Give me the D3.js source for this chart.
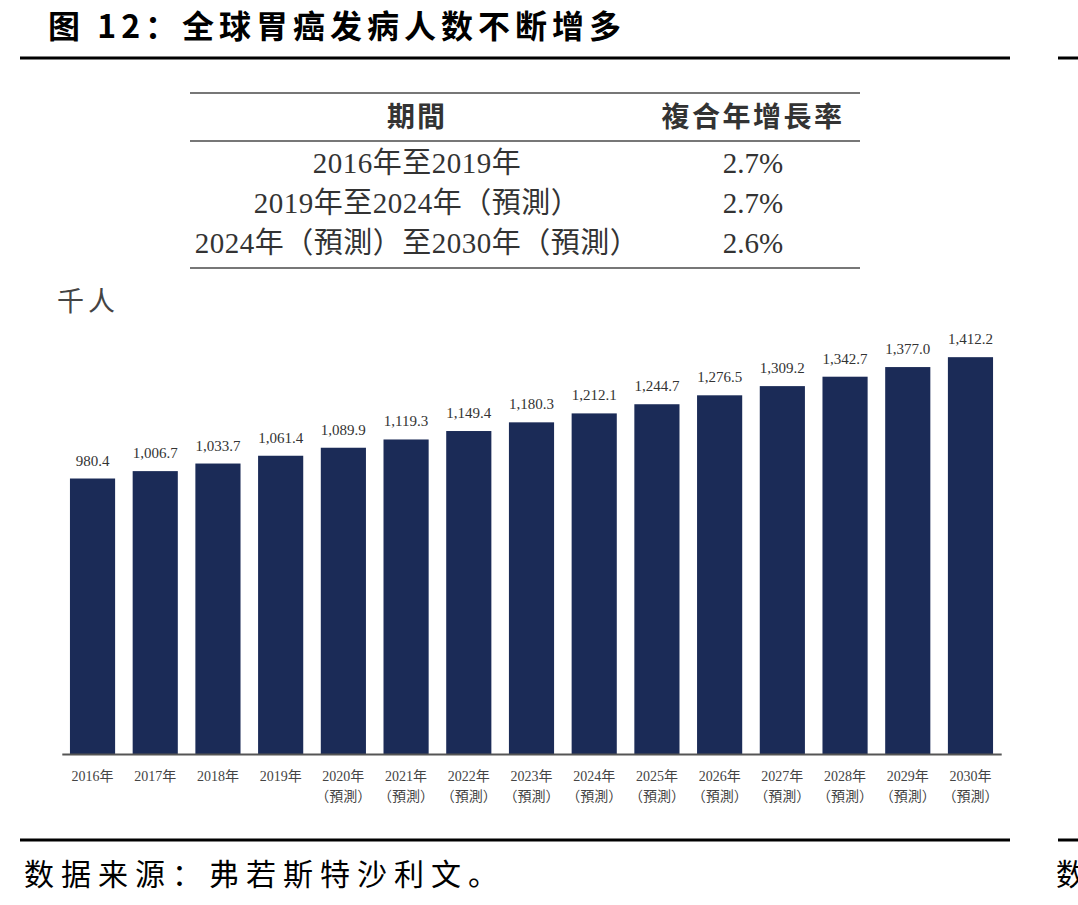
<!DOCTYPE html>
<html>
<head>
<meta charset="utf-8">
<script src="https://cdn.jsdelivr.net/npm/d3@7"></script>
<style>
  body { margin: 0; background: #fff; }
  svg { display: block; }
</style>
</head>
<body>
<div id="chart"></div>
<script>
var years = ["2016年", "2017年", "2018年", "2019年", "2020年", "2021年", "2022年", "2023年",
  "2024年", "2025年", "2026年", "2027年", "2028年", "2029年", "2030年"];
var forecast = [false, false, false, false, true, true, true, true, true, true, true, true, true, true, true];
var cases = [980.4, 1006.7, 1033.7, 1061.4, 1089.9, 1119.3, 1149.4, 1180.3, 1212.1, 1244.7,
  1276.5, 1309.2, 1342.7, 1377.0, 1412.2];

var periods = ["2016年至2019年", "2019年至2024年（預測）", "2024年（預測）至2030年（預測）"];
var cagr = ["2.7%", "2.7%", "2.6%"];

var svgWidth = 1078;
var svgHeight = 905;
var serif = "'Liberation Serif', 'DejaVu Serif', 'Noto Sans CJK TC', serif";
var cjk = "'Noto Sans CJK SC', sans-serif";

var svg = d3.select("#chart")
  .append("svg")
  .attr("width", svgWidth)
  .attr("height", svgHeight);

// Title and frame lines
svg.append("text")
  .attr("x", 48)
  .attr("y", 38)
  .attr("font-family", cjk)
  .attr("font-weight", "bold")
  .attr("font-size", 32)
  .attr("letter-spacing", 5)
  .attr("fill", "#000")
  .text("图 12：全球胃癌发病人数不断增多");

[58, 840].forEach(function(y) {
  svg.append("line").attr("x1", 20).attr("x2", 1010).attr("y1", y).attr("y2", y)
    .attr("stroke", "#000").attr("stroke-width", 3);
  svg.append("line").attr("x1", 1058).attr("x2", 1078).attr("y1", y).attr("y2", y)
    .attr("stroke", "#000").attr("stroke-width", 3);
});

// source note (the second, clipped one belongs to the next column on the page)
svg.append("text")
  .attr("x", 24)
  .attr("y", 885)
  .attr("font-family", cjk)
  .attr("font-size", 30)
  .attr("letter-spacing", 7)
  .attr("fill", "#000")
  .text("数据来源：弗若斯特沙利文。");
svg.append("text")
  .attr("x", 1056)
  .attr("y", 885)
  .attr("font-family", cjk)
  .attr("font-size", 30)
  .attr("fill", "#000")
  .text("数");

// CAGR table
var table = svg.append("g");
var colX = [417, 753];
[93, 141, 268].forEach(function(y) {
  table.append("line").attr("x1", 190).attr("x2", 860).attr("y1", y).attr("y2", y)
    .attr("stroke", "#777").attr("stroke-width", 2);
});
table.append("text").attr("x", colX[0]).attr("y", 127).attr("text-anchor", "middle")
  .attr("font-family", cjk).attr("font-weight", "bold").attr("font-size", 28)
  .attr("letter-spacing", 2).attr("fill", "#333")
  .text("期間");
table.append("text").attr("x", colX[1]).attr("y", 127).attr("text-anchor", "middle")
  .attr("font-family", cjk).attr("font-weight", "bold").attr("font-size", 28)
  .attr("letter-spacing", 2.5).attr("fill", "#333")
  .text("複合年增長率");

var rowY = d3.scalePoint().domain(d3.range(periods.length)).range([173, 253]);
periods.forEach(function(p, i) {
  table.append("text").attr("x", colX[0]).attr("y", rowY(i)).attr("text-anchor", "middle")
    .attr("font-family", serif).attr("font-size", 29).attr("letter-spacing", 0.5)
    .attr("fill", "#333").text(p);
  table.append("text").attr("x", colX[1]).attr("y", rowY(i)).attr("text-anchor", "middle")
    .attr("font-family", serif).attr("font-size", 29).attr("fill", "#333").text(cagr[i]);
});

// Unit label
svg.append("text")
  .attr("x", 57)
  .attr("y", 311)
  .attr("font-family", cjk)
  .attr("font-size", 27)
  .attr("letter-spacing", 4)
  .attr("fill", "#444")
  .text("千人");

// Bars
var baseY = 754;
var xScale = d3.scaleBand()
  .domain(years)
  .range([61.8, 1001.2])
  .paddingInner(0.28)
  .paddingOuter(0.13);

var yScale = d3.scaleLinear()
  .domain([0, 1500])
  .range([baseY, baseY - 1500 * 0.281]);

var chartGroup = svg.append("g");

chartGroup.selectAll("rect")
  .data(cases)
  .enter()
  .append("rect")
  .attr("x", (d, i) => xScale(years[i]))
  .attr("y", d => yScale(d))
  .attr("width", xScale.bandwidth())
  .attr("height", d => yScale(0) - yScale(d))
  .attr("fill", "#1b2b57");

chartGroup.selectAll(".val")
  .data(cases)
  .enter()
  .append("text")
  .attr("class", "val")
  .attr("x", (d, i) => xScale(years[i]) + xScale.bandwidth() / 2)
  .attr("y", d => yScale(d) - 13)
  .attr("text-anchor", "middle")
  .attr("font-family", serif)
  .attr("font-size", 15)
  .attr("fill", "#333")
  .text(d => d3.format(",.1f")(d));

// X axis
var bottomAxis = d3.axisBottom(xScale).tickSize(0).tickPadding(0);
var xAxis = chartGroup.append("g")
  .attr("transform", `translate(0, ${baseY})`)
  .call(bottomAxis);
xAxis.select(".domain").attr("stroke", "#555").attr("stroke-width", 2);
xAxis.selectAll(".tick text").remove();
xAxis.selectAll(".tick").each(function(d, i) {
  var t = d3.select(this).append("text")
    .attr("text-anchor", "middle")
    .attr("font-family", serif)
    .attr("font-size", 14)
    .attr("fill", "#444");
  t.append("tspan").attr("x", 0).attr("y", 27).text(d);
  if (forecast[i]) {
    t.append("tspan").attr("x", 0).attr("y", 47).text("（預測）");
  }
});
</script>
</body>
</html>
